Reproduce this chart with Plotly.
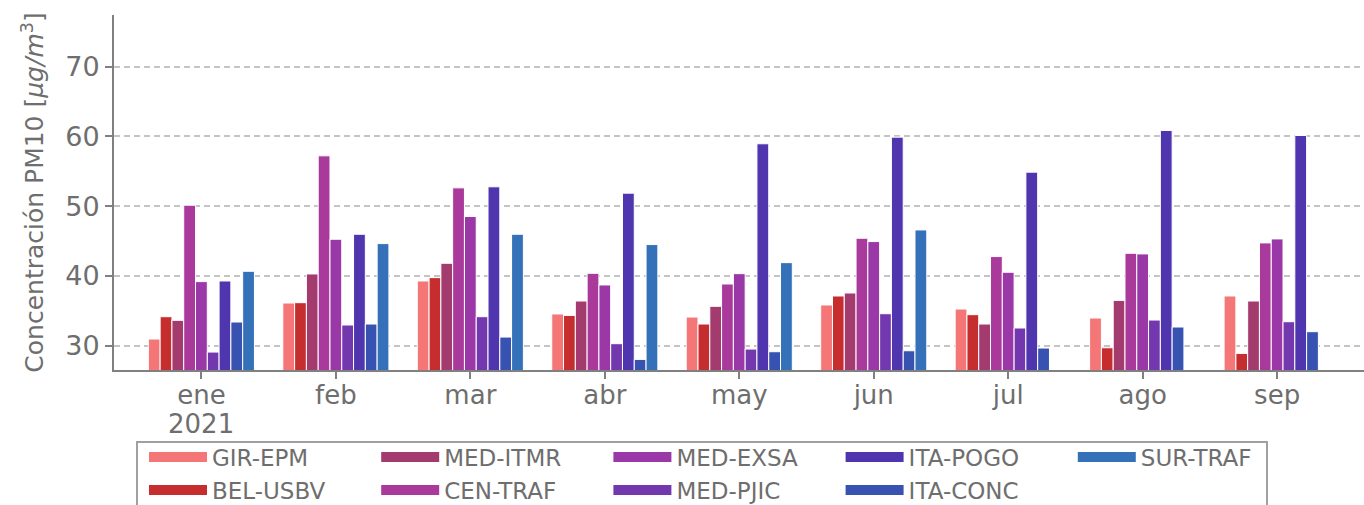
import plotly.graph_objects as go

months = ["ene", "feb", "mar", "abr", "may", "jun", "jul", "ago", "sep"]
year_label = "2021"

stations = ["GIR-EPM", "BEL-USBV", "MED-ITMR", "CEN-TRAF", "MED-EXSA",
            "MED-PJIC", "ITA-POGO", "ITA-CONC", "SUR-TRAF"]

gir_epm  = [30.96, 36.12, 39.28, 34.55, 34.11, 35.84, 35.26, 33.97, 37.13]
bel_usbv = [34.16, 36.17, 39.76, 34.35, 33.11, 37.13, 34.45, 29.71, 28.90]
med_itmr = [33.64, 40.29, 41.82, 36.41, 35.65, 37.56, 33.11, 36.50, 36.41]
cen_traf = [50.14, 57.22, 52.63, 40.38, 38.85, 45.41, 42.78, 43.25, 44.74]
med_exsa = [39.19, 45.26, 48.52, 38.71, 40.33, 44.93, 40.53, 43.16, 45.31]
med_pjic = [29.09, 32.97, 34.16, 30.29, 29.52, 34.59, 32.54, 33.68, 33.44]
ita_pogo = [39.28, 45.98, 52.78, 51.87, 58.95, 59.90, 54.88, 60.86, 60.14]
ita_conc = [33.40, 33.11, 31.24, 28.04, 29.14, 29.28, 29.67, 32.68, 32.01]
sur_traf = [40.67, 44.64, 45.98, 44.50, 41.91, 46.60, None, None, None]

series = [gir_epm, bel_usbv, med_itmr, cen_traf, med_exsa,
          med_pjic, ita_pogo, ita_conc, sur_traf]
colors = ["#f47676", "#c62d2f", "#a33b6f", "#a9399a", "#9a38a8",
          "#7338ad", "#4f36ae", "#3852b1", "#3571b8"]
legend_ranks = [1, 6, 2, 7, 3, 8, 4, 9, 5]

TXT = "#6e6e6e"
AX = "#808080"
FONT = "DejaVu Sans"

fig = go.Figure()
for name, vals, col in zip(stations, series, colors):
    fig.add_trace(go.Bar(
        x=months, y=vals, name=name, showlegend=False, legendgroup=name,
        marker=dict(color=col, line=dict(color="white", width=1)),
    ))
# legend entries drawn as wide colour strips
for name, col, rk in zip(stations, colors, legend_ranks):
    fig.add_trace(go.Scatter(
        x=[None], y=[None], name=name, mode="lines", legendgroup=name,
        line=dict(color=col, width=13), legendrank=rk,
    ))

fig.update_layout(
    width=1364, height=505,
    margin=dict(l=114, r=0, t=15, b=135, autoexpand=False),
    paper_bgcolor="white", plot_bgcolor="white",
    barmode="group", bargap=0.211, bargroupgap=0,
    font=dict(family=FONT, color=TXT, size=26),
    showlegend=True,
    legend=dict(
        orientation="h", x=0.024, xanchor="left", y=-0.1848, yanchor="top",
        borderwidth=0, bgcolor="rgba(0,0,0,0)",
        font=dict(family=FONT, size=23, color=TXT),
        itemwidth=58, entrywidth=159.2, entrywidthmode="pixels",
        traceorder="normal",
    ),
    # legend frame (open at the bottom edge of the picture, as in the source)
    shapes=[dict(
        type="rect", xref="paper", yref="paper",
        x0=0.0184, x1=0.9224, y0=-0.2028, y1=-0.45,
        line=dict(color="#a0a0a0", width=2), fillcolor="rgba(0,0,0,0)",
        layer="above",
    )],
    annotations=[dict(
        x="ene", y=0, xref="x", yref="paper", yanchor="top",
        yshift=-37, text=year_label, showarrow=False,
        font=dict(family=FONT, size=26, color=TXT),
    )],
)

fig.update_xaxes(
    type="category", range=[-0.65, 8.646], automargin=False,
    showline=True, linecolor=AX, linewidth=2,
    ticks="outside", ticklen=7, tickwidth=2, tickcolor=AX,
    ticklabelstandoff=-6,
    showgrid=False, zeroline=False,
    tickfont=dict(family=FONT, size=26, color=TXT),
)
fig.update_yaxes(
    range=[26.52, 77.41], tickvals=[30, 40, 50, 60, 70], automargin=False,
    showline=True, linecolor=AX, linewidth=2,
    ticks="outside", ticklen=7, tickwidth=2, tickcolor=AX,
    showgrid=True, gridcolor="#c4c4c4", gridwidth=1.5, griddash="6px,4px",
    zeroline=False,
    tickfont=dict(family=FONT, size=27, color=TXT),
    title=dict(text="Concentración PM10 [<i>μg/m</i><sup>3</sup>]",
               font=dict(family=FONT, size=25, color=TXT), standoff=14),
)

# remove the browser's default 8 px page margin so the figure fills the window
fig.write_html("out.html", config={"displayModeBar": False},
               post_script="document.body.style.margin='0';")
